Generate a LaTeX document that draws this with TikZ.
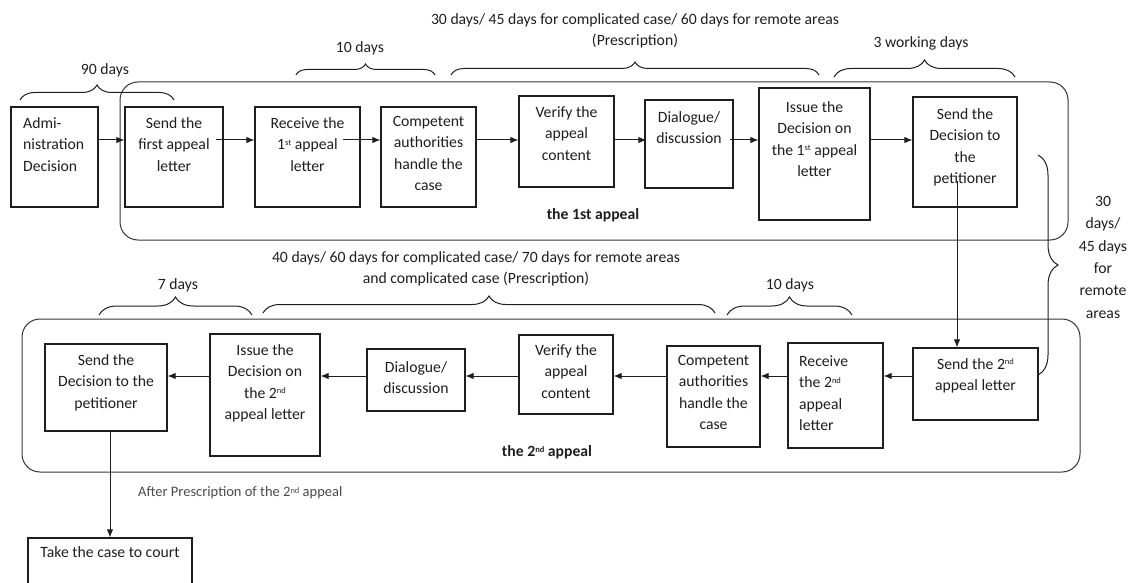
\documentclass[tikz,border=0pt]{standalone}
\usepackage{fontspec}
\setmainfont{Carlito}
\usetikzlibrary{arrows.meta,decorations.pathreplacing,calc}
\definecolor{ink}{HTML}{1E1E1E}
\definecolor{soft}{HTML}{4A4A4A}
% small raised ordinal suffix
\newcommand{\ordsup}[1]{\raisebox{0.55ex}{\fontsize{8.5}{8.5}\selectfont #1}}

\begin{document}
\begin{tikzpicture}[x=1pt,y=-1pt,
  every node/.style={font=\fontsize{15.7}{21.5}\selectfont, text=ink},
  box/.style={draw=ink, line width=1.2pt, inner sep=0pt},
  txt/.style={anchor=north, align=center, inner sep=0pt},
  ltxt/.style={anchor=north west, align=left, inner sep=0pt},
  frame/.style={draw=ink!90, line width=1pt, rounded corners=18pt},
  arr/.style={draw=ink, line width=1pt, -{Latex[length=8pt,width=6.5pt]}},
  brc/.style={draw=ink, line width=1pt, decorate, decoration={brace, amplitude=#1}},
  note/.style={inner sep=0pt, align=center},
]
\useasboundingbox (0,0) rectangle (1133,583);

% appeal frames
\draw[frame] (120,82) rectangle (1068,240);
\draw[frame] (22,319) rectangle (1080,472);

% ---- first appeal row ----
\node[box, minimum width=87pt, minimum height=100pt] (adm) at (54.5,157) {};
\node[ltxt] (admt) at (23,117) {Admi-\\nistration\\Decision};

\node[box, minimum width=98pt, minimum height=100pt] (snd1) at (174,157) {};
\node[txt] (snd1t) at (174,117) {Send the\\first appeal\\letter};

\node[box, minimum width=105pt, minimum height=100pt] (rcv1) at (307.5,157) {};
\node[txt] (rcv1t) at (307.5,117) {Receive the\\1\ordsup{st} appeal\\letter};

\node[box, minimum width=95pt, minimum height=100pt] (cmp1) at (428.5,157) {};
\node[txt] (cmp1t) at (428.5,116) {Competent\\authorities\\handle the\\case};

\node[box, minimum width=95pt, minimum height=91pt] (ver1) at (566.5,141.5) {};
\node[txt] (ver1t) at (566.5,106) {Verify the\\appeal\\content};

\node[box, minimum width=88pt, minimum height=88pt] (dlg1) at (689,144) {};
\node[txt] (dlg1t) at (689,111) {Dialogue/\\discussion};

\node[box, minimum width=111pt, minimum height=132pt] (iss1) at (814.5,154) {};
\node[txt] (iss1t) at (814.5,101) {Issue the\\Decision on\\the 1\ordsup{st} appeal\\letter};

\node[box, minimum width=104pt, minimum height=110pt] (sdc1) at (965,152) {};
\node[txt] (sdc1t) at (965,108) {Send the\\Decision to\\the\\petitioner};

\node[note, font=\fontsize{15.7}{21.5}\selectfont\bfseries] (lab1) at (593,215) {the 1st appeal};

% ---- second appeal row ----
\node[box, minimum width=125pt, minimum height=72pt] (snd2) at (975.5,384) {};
\node[txt] (snd2t) at (975.5,358) {Send the 2\ordsup{nd}\\appeal letter};

\node[box, minimum width=95pt, minimum height=105pt] (rcv2) at (835.5,395.5) {};
\node[ltxt] (rcv2t) at (799,355) {Receive\\the 2\ordsup{nd}\\appeal\\letter};

\node[box, minimum width=93pt, minimum height=101pt] (cmp2) at (713.5,396.5) {};
\node[txt] (cmp2t) at (713.5,355) {Competent\\authorities\\handle the\\case};

\node[box, minimum width=94pt, minimum height=79pt] (ver2) at (566,374.5) {};
\node[txt] (ver2t) at (566,344) {Verify the\\appeal\\content};

\node[box, minimum width=98pt, minimum height=62pt] (dlg2) at (416,380) {};
\node[txt] (dlg2t) at (416,361) {Dialogue/\\discussion};

\node[box, minimum width=110pt, minimum height=122pt] (iss2) at (265,395) {};
\node[txt] (iss2t) at (265,344) {Issue the\\Decision on\\the 2\ordsup{nd}\\appeal letter};

\node[box, minimum width=122pt, minimum height=87pt] (sdc2) at (106,387.5) {};
\node[txt] (sdc2t) at (106,354) {Send the\\Decision to the\\petitioner};

\node[note, font=\fontsize{15.7}{21.5}\selectfont\bfseries] (lab2) at (547,452) {the 2\ordsup{nd} appeal};

% court box runs off the lower edge
\begin{scope}
\clip (0,0) rectangle (1133,583);
\node[box, minimum width=164pt, minimum height=80pt] (court) at (110,578) {};
\node[txt] (courtt) at (110,546) {Take the case to court};
\end{scope}

\node[anchor=west, inner sep=0pt, text=soft, font=\fontsize{14.5}{18}\selectfont] (after) at (138,493) {After Prescription of the 2\ordsup{nd} appeal};

% ---- connectors ----
\coordinate (r1) at (0,140);
\coordinate (r2) at (0,376);
\coordinate (c1) at (957,0);
\coordinate (c2) at (110,0);

\draw[arr] (adm.east |- r1) -- (snd1.west |- r1);
\draw[arr] ($(snd1.east |- r1)+(-8,0)$) -- (rcv1.west |- r1);
\draw[arr] ($(rcv1.east |- r1)+(-18,0)$) -- (cmp1.west |- r1);
\draw[arr] (cmp1.east |- r1) -- (ver1.west |- r1);
\draw[arr] (ver1.east |- r1) -- ($(dlg1.west |- r1)+(2,0)$);
\draw[arr] ($(dlg1.east |- r1)+(-4,0)$) -- (iss1.west |- r1);
\draw[arr] (iss1.east |- r1) -- (sdc1.west |- r1);

\draw[arr] ($(sdc1.south -| c1)+(0,-27)$) -- (snd2.north -| c1);

\draw[arr] (snd2.west |- r2) -- (rcv2.east |- r2);
\draw[arr] (rcv2.west |- r2) -- (cmp2.east |- r2);
\draw[arr] (cmp2.west |- r2) -- (ver2.east |- r2);
\draw[arr] (ver2.west |- r2) -- (dlg2.east |- r2);
\draw[arr] (dlg2.west |- r2) -- (iss2.east |- r2);
\draw[arr] (iss2.west |- r2) -- (sdc2.east |- r2);

\draw[arr] (sdc2.south -| c2) -- (court.north -| c2);

% ---- time braces ----
\draw[brc=15pt] (20,100) -- (174,100);
\node[note] (t90) at (105,70) {90 days};

\draw[brc=11pt] (296,75) -- (435,75);
\node[note] (t10a) at (360,48) {10 days};

\draw[brc=13pt] (451,75) -- (819,75);
\node[txt] (t30) at (635,13) {30 days/ 45 days for complicated case/ 60 days for remote areas\\(Prescription)};

\draw[brc=17pt] (834,77) -- (1015,77);
\node[note] (t3) at (921,43) {3 working days};

\draw[brc=20pt] (1038,155) -- (1038,375);
\node[txt, font=\fontsize{15.7}{22.4}\selectfont] (t30r) at (1103,196) {30\\days/\\45 days\\for\\remote\\areas};

\draw[brc=18pt] (99,315) -- (252,315);
\node[note] (t7) at (178,285) {7 days};

\draw[brc=17pt] (263,313) -- (715,313);
\node[txt] (t40) at (476,251) {40 days/ 60 days for complicated case/ 70 days for remote areas\\and complicated case (Prescription)};

\draw[brc=18pt] (727,315) -- (852,315);
\node[note] (t10b) at (790,285) {10 days};
\end{tikzpicture}
\end{document}
